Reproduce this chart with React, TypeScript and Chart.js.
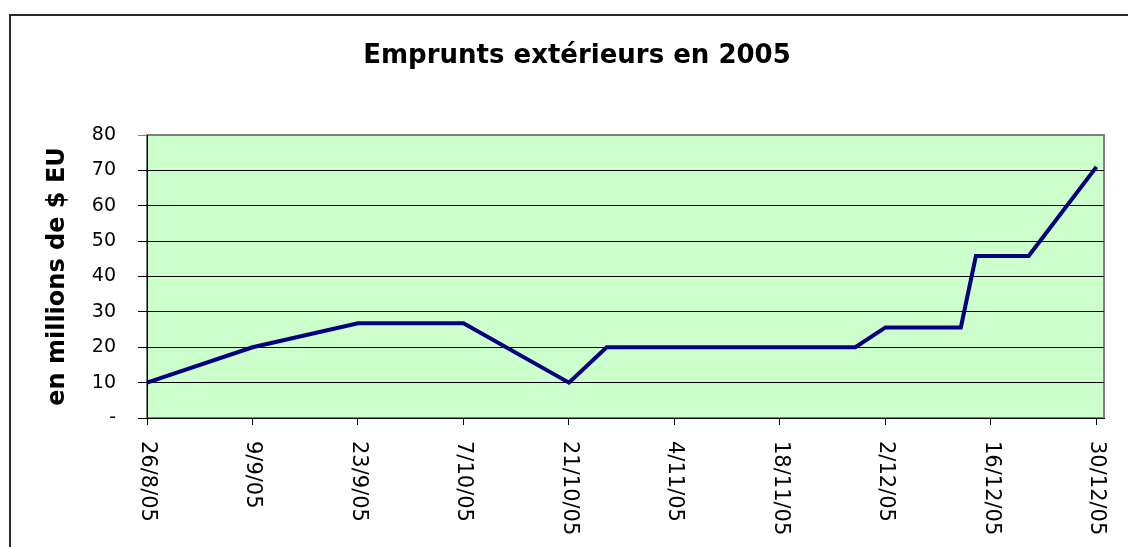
import React, { useEffect, useRef } from "react";
import { Chart, registerables } from "chart.js";

Chart.register(...registerables);

// ---- data ----
const startDate = "2005-08-26";
const endDate = "2005-12-31";
const pointDates = [
  "2005-08-26", "2005-09-09", "2005-09-23", "2005-10-07", "2005-10-21", "2005-10-26",
  "2005-11-28", "2005-12-02", "2005-12-12", "2005-12-14", "2005-12-21", "2005-12-30",
];
const pointValues = [10, 20, 26.8, 26.8, 10, 20, 20, 25.6, 25.6, 45.8, 45.8, 71];
const tickDates = [
  "2005-08-26", "2005-09-09", "2005-09-23", "2005-10-07", "2005-10-21",
  "2005-11-04", "2005-11-18", "2005-12-02", "2005-12-16", "2005-12-30",
];
const tickLabels = [
  "26/8/05", "9/9/05", "23/9/05", "7/10/05", "21/10/05",
  "4/11/05", "18/11/05", "2/12/05", "16/12/05", "30/12/05",
];
const yTickValues = [0, 10, 20, 30, 40, 50, 60, 70, 80];
const titleText = "Emprunts extérieurs en 2005";
const yTitleText = "en millions de $ EU";

function toUTC(s: string) {
  const [y, m, d] = s.split("-").map(Number);
  return Date.UTC(y, m - 1, d);
}
function dayOf(s: string) {
  return Math.round((toUTC(s) - toUTC(startDate)) / 86400000);
}

const FONT = "'DejaVu Sans', sans-serif";

export default function App() {
  const ref = useRef<HTMLCanvasElement | null>(null);

  useEffect(() => {
    if (!ref.current) return;
    const tickDays = tickDates.map(dayOf);

    const decor = {
      id: "decor",
      beforeDraw(chart: any) {
        const { ctx, chartArea: a } = chart;
        ctx.save();
        // outer frame (extends beyond the visible page on the right and bottom)
        ctx.strokeStyle = "#2a2a2a";
        ctx.lineWidth = 2;
        ctx.beginPath();
        ctx.moveTo(10, 1000);
        ctx.lineTo(10, 15);
        ctx.lineTo(1154, 15);
        ctx.stroke();
        // plot background
        ctx.fillStyle = "#CCFFCC";
        ctx.fillRect(a.left, a.top, a.right - a.left, a.bottom - a.top);
        ctx.strokeStyle = "#808080";
        ctx.lineWidth = 2;
        ctx.strokeRect(a.left, a.top, a.right - a.left, a.bottom - a.top);
        ctx.restore();
      },
      afterDraw(chart: any) {
        const { ctx } = chart;
        const xs = chart.scales.x;
        ctx.save();
        // title
        ctx.fillStyle = "#000";
        ctx.font = `bold 26px ${FONT}`;
        ctx.textAlign = "center";
        ctx.textBaseline = "alphabetic";
        ctx.fillText(titleText, 577, 63);
        // rotated x labels (reading top to bottom)
        ctx.font = `21px ${FONT}`;
        ctx.textAlign = "left";
        ctx.textBaseline = "middle";
        tickDays.forEach((d, i) => {
          const x = xs.getPixelForValue(d);
          ctx.save();
          ctx.translate(x, 441);
          ctx.rotate(Math.PI / 2);
          ctx.fillText(tickLabels[i], 0, 0);
          ctx.restore();
        });
        ctx.restore();
      },
    };

    const chart = new Chart(ref.current, {
      type: "line",
      data: {
        datasets: [
          {
            data: pointDates.map((d, i) => ({ x: dayOf(d), y: pointValues[i] })),
            borderColor: "#000080",
            borderWidth: 4,
            pointRadius: 0,
            tension: 0,
            fill: false,
            clip: 4,
          },
        ],
      },
      options: {
        animation: false,
        responsive: false,
        events: [],
        layout: { padding: { left: 43, right: 50, top: 135, bottom: 0 } },
        plugins: {
          legend: { display: false },
          tooltip: { enabled: false },
          title: { display: false },
        },
        scales: {
          x: {
            type: "linear",
            min: 0,
            max: dayOf(endDate),
            afterBuildTicks: (s: any) => {
              s.ticks = tickDays.map((v) => ({ value: v }));
            },
            afterFit: (s: any) => {
              s.height = 129;
            },
            ticks: { autoSkip: false, callback: () => "", padding: 0 },
            grid: {
              drawOnChartArea: false,
              drawTicks: true,
              tickLength: 7,
              color: "#000",
              lineWidth: 1,
            },
            border: { display: true, color: "#000", width: 1 },
          },
          y: {
            min: 0,
            max: 80,
            afterBuildTicks: (s: any) => {
              s.ticks = yTickValues.map((v) => ({ value: v }));
            },
            afterFit: (s: any) => {
              s.width = 104;
            },
            ticks: {
              padding: 22,
              color: "#000",
              font: { family: FONT, size: 19 },
              callback: (v: any) => (Number(v) === 0 ? "-" : String(v)),
            },
            grid: {
              drawTicks: true,
              tickLength: 9,
              color: (c: any) => (c.tick && c.tick.value === 80 ? "#808080" : "#000"),
              lineWidth: 1,
            },
            border: { display: true, color: "#000", width: 1 },
            title: {
              display: true,
              text: yTitleText,
              color: "#000",
              font: { family: FONT, size: 24, weight: "bold" },
              padding: 0,
            },
          },
        },
      },
      plugins: [decor],
    } as any);

    return () => chart.destroy();
  }, []);

  return (
    <div
      style={{
        position: "absolute",
        left: 0,
        top: 0,
        width: 1128,
        height: 547,
        overflow: "hidden",
        background: "#fff",
      }}
    >
      <canvas ref={ref} width={1154} height={547} style={{ display: "block" }} />
    </div>
  );
}
